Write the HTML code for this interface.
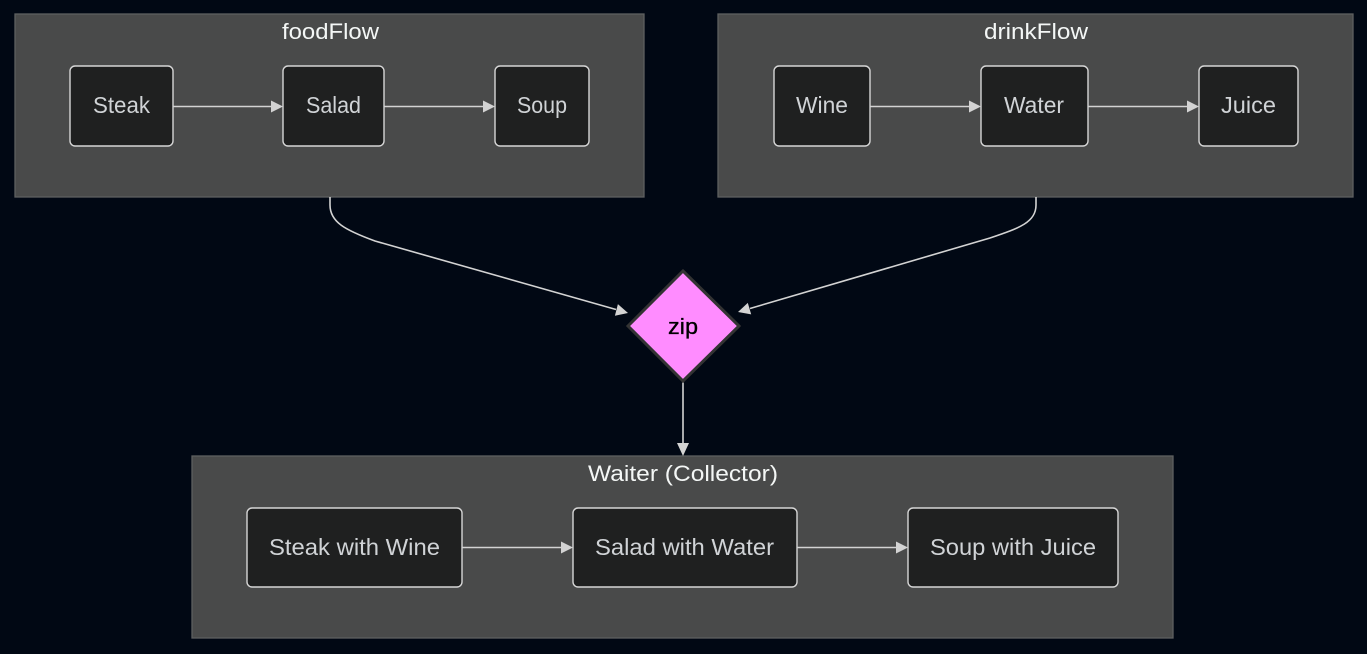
<!DOCTYPE html>
<html><head><meta charset="utf-8"><style>
html,body{margin:0;padding:0;background:#010814;}
svg{display:block;}
text{font-family:"Liberation Sans","DejaVu Sans",sans-serif;}
</style></head><body>
<svg width="1367" height="654" viewBox="0 0 1367 654" xmlns="http://www.w3.org/2000/svg">
<rect x="0" y="0" width="1367" height="654" fill="#010814"/>
<!-- clusters -->
<g fill="#494a4a" stroke="#5e6060" stroke-width="1.3">
<rect x="15" y="14" width="629" height="183"/>
<rect x="718" y="14" width="635" height="183"/>
<rect x="192" y="456" width="981" height="182"/>
</g>
<g fill="#f4f7f6" font-size="22" text-anchor="start">
<text x="282" y="39" textLength="97" lengthAdjust="spacingAndGlyphs">foodFlow</text>
<text x="984" y="39" textLength="104" lengthAdjust="spacingAndGlyphs">drinkFlow</text>
<text x="588" y="481" textLength="190" lengthAdjust="spacingAndGlyphs">Waiter (Collector)</text>
</g>
<!-- nodes -->
<g fill="#1f2020" stroke="#d6d6d6" stroke-width="1.4">
<rect x="70" y="66" width="103" height="80" rx="5"/>
<rect x="283" y="66" width="101" height="80" rx="5"/>
<rect x="495" y="66" width="94" height="80" rx="5"/>
<rect x="774" y="66" width="96" height="80" rx="5"/>
<rect x="981" y="66" width="107" height="80" rx="5"/>
<rect x="1199" y="66" width="99" height="80" rx="5"/>
<rect x="247" y="508" width="215" height="79" rx="5"/>
<rect x="573" y="508" width="224" height="79" rx="5"/>
<rect x="908" y="508" width="210" height="79" rx="5"/>
</g>
<g fill="#d0d3d6" font-size="23">
<text x="93" y="113" textLength="57" lengthAdjust="spacingAndGlyphs">Steak</text>
<text x="306" y="113" textLength="55" lengthAdjust="spacingAndGlyphs">Salad</text>
<text x="517" y="113" textLength="50" lengthAdjust="spacingAndGlyphs">Soup</text>
<text x="796" y="113" textLength="52" lengthAdjust="spacingAndGlyphs">Wine</text>
<text x="1004" y="113" textLength="60" lengthAdjust="spacingAndGlyphs">Water</text>
<text x="1221" y="113" textLength="55" lengthAdjust="spacingAndGlyphs">Juice</text>
<text x="269" y="555" textLength="171" lengthAdjust="spacingAndGlyphs">Steak with Wine</text>
<text x="595" y="555" textLength="179" lengthAdjust="spacingAndGlyphs">Salad with Water</text>
<text x="930" y="555" textLength="166" lengthAdjust="spacingAndGlyphs">Soup with Juice</text>
</g>
<!-- edges -->
<g stroke="#d3d3d3" stroke-width="1.6" fill="none">
<path d="M173,106.5 L273,106.5"/>
<path d="M384,106.5 L485,106.5"/>
<path d="M870,106.5 L971,106.5"/>
<path d="M1088,106.5 L1189,106.5"/>
<path d="M462,547.5 L563,547.5"/>
<path d="M797,547.5 L898,547.5"/>
<path d="M330,197 L330,205 C330,222 345,230 375,241 L616,309.5"/>
<path d="M1036,197 L1036,205 C1036,222 1020,228 990,238 L750,308.5"/>
<path d="M683,382 L683,444"/>
</g>
<g fill="#d3d3d3">
<polygon points="271,100.5 283,106.5 271,112.5"/>
<polygon points="483,100.5 495,106.5 483,112.5"/>
<polygon points="969,100.5 981,106.5 969,112.5"/>
<polygon points="1187,100.5 1199,106.5 1187,112.5"/>
<polygon points="561,541.5 573,547.5 561,553.5"/>
<polygon points="896,541.5 908,547.5 896,553.5"/>
<polygon points="628,313 617.9,304.1 614.9,315.7"/>
<polygon points="738,312 747.8,302.9 751.2,314.4"/>
<polygon points="677,443 689,443 683,456"/>
</g>
<!-- diamond -->
<polygon points="683,271 739,326 683,381 628,326" fill="#ff8cff" stroke="#333333" stroke-width="3"/>
<text x="668" y="334" font-size="22" fill="#000" stroke="#000" stroke-width="0.3" textLength="30" lengthAdjust="spacingAndGlyphs">zip</text>
</svg>
</body></html>
